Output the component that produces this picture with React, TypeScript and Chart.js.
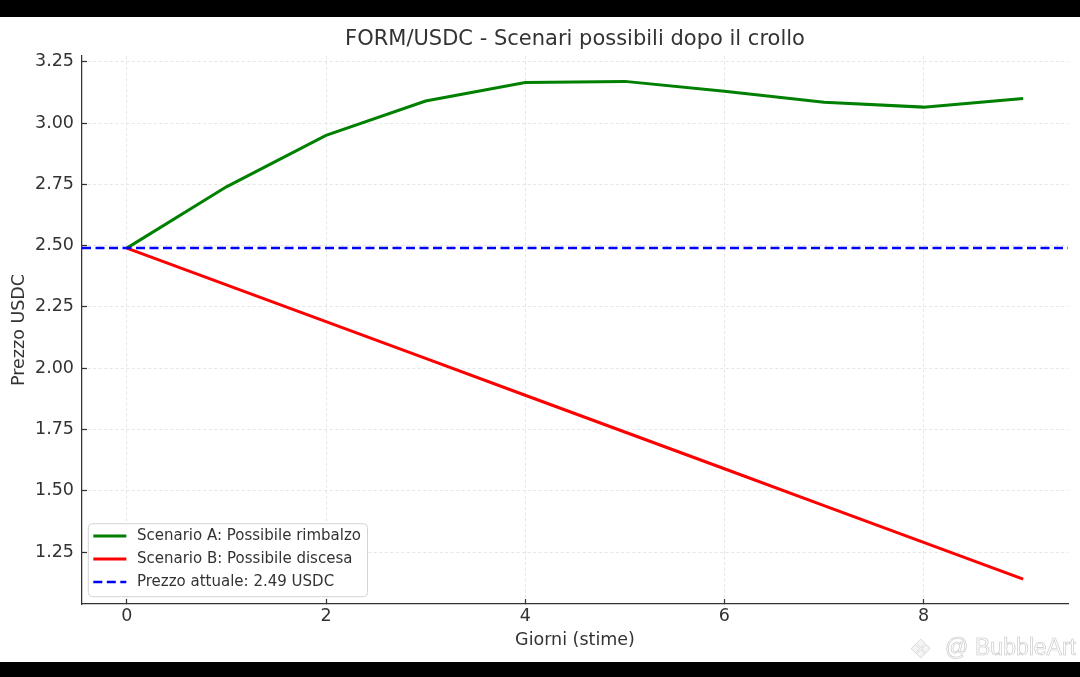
import React, { useEffect, useRef } from "react";
import { Chart, registerables } from "chart.js";

Chart.register(...registerables);

const days = [0, 1, 2, 3, 4, 5, 6, 7, 8, 9];
const scenarioA = [2.49, 2.74, 2.95, 3.09, 3.165, 3.17, 3.13, 3.085, 3.065, 3.1];
const scenarioB = [2.49, 2.34, 2.19, 2.04, 1.89, 1.74, 1.59, 1.44, 1.29, 1.14];
const currentPrice = 2.49;
const xTickValues = [0, 2, 4, 6, 8];
const yTickValues = [1.25, 1.5, 1.75, 2.0, 2.25, 2.5, 2.75, 3.0, 3.25];
const xLimits = [-0.45, 9.45];
const yLimits = [1.0385, 3.2735];

const labelA = "Scenario A: Possibile rimbalzo";
const labelB = "Scenario B: Possibile discesa";
const labelC = "Prezzo attuale: 2.49 USDC";

const FONT = "'DejaVu Sans', sans-serif";
const TEXT = "#333333";

const legendPlugin = {
  id: "innerLegend",
  afterDraw(chart: any) {
    const { ctx, chartArea } = chart;
    const ds = chart.data.datasets;
    ctx.save();
    ctx.font = `15px ${FONT}`;
    let maxW = 0;
    ds.forEach((d: any) => {
      maxW = Math.max(maxW, ctx.measureText(d.label).width);
    });
    const left = chartArea.left + 6.3;
    const bottom = chartArea.bottom - 7.3;
    const rowH = 23;
    const height = 12.3 + rowH * (ds.length - 1) + 14.7;
    const top = bottom - height;
    const textX = left + 48.7;
    const width = textX - left + maxW + 6.5;
    const r = 4;
    ctx.beginPath();
    ctx.moveTo(left + r, top);
    ctx.lineTo(left + width - r, top);
    ctx.arcTo(left + width, top, left + width, top + r, r);
    ctx.lineTo(left + width, bottom - r);
    ctx.arcTo(left + width, bottom, left + width - r, bottom, r);
    ctx.lineTo(left + r, bottom);
    ctx.arcTo(left, bottom, left, bottom - r, r);
    ctx.lineTo(left, top + r);
    ctx.arcTo(left, top, left + r, top, r);
    ctx.closePath();
    ctx.fillStyle = "rgba(255,255,255,0.85)";
    ctx.fill();
    ctx.strokeStyle = "#d4d4d4";
    ctx.lineWidth = 1;
    ctx.stroke();
    ds.forEach((d: any, i: number) => {
      const y = top + 12.3 + i * rowH;
      ctx.beginPath();
      ctx.setLineDash(d.borderDash || []);
      ctx.strokeStyle = d.borderColor;
      ctx.lineWidth = d.borderWidth;
      ctx.moveTo(left + 5, y);
      ctx.lineTo(left + 38, y);
      ctx.stroke();
      ctx.setLineDash([]);
      ctx.fillStyle = TEXT;
      ctx.textBaseline = "middle";
      ctx.textAlign = "left";
      ctx.fillText(d.label, textX, y + 0.5);
    });
    ctx.restore();
  },
};

export default function App() {
  const ref = useRef<HTMLCanvasElement | null>(null);

  useEffect(() => {
    if (!ref.current) return;
    Chart.defaults.font.family = FONT;
    Chart.defaults.color = TEXT;
    const chart = new Chart(ref.current, {
      type: "line",
      data: {
        datasets: [
          {
            label: labelA,
            data: days.map((d, i) => ({ x: d, y: scenarioA[i] })),
            borderColor: "#008000",
            backgroundColor: "#008000",
            borderWidth: 3,
            pointRadius: 0,
            tension: 0,
            order: 3,
          },
          {
            label: labelB,
            data: days.map((d, i) => ({ x: d, y: scenarioB[i] })),
            borderColor: "#ff0000",
            backgroundColor: "#ff0000",
            borderWidth: 3,
            pointRadius: 0,
            tension: 0,
            order: 2,
          },
          {
            label: labelC,
            data: [
              { x: xLimits[0], y: currentPrice },
              { x: xLimits[1], y: currentPrice },
            ],
            borderColor: "#0000ff",
            backgroundColor: "#0000ff",
            borderWidth: 2.5,
            borderDash: [9, 4.5],
            pointRadius: 0,
            tension: 0,
            order: 1,
          },
        ],
      },
      options: {
        animation: false,
        responsive: false,
        maintainAspectRatio: false,
        devicePixelRatio: 1,
        layout: { padding: { top: 17, left: 0, right: 12, bottom: 15 } },
        plugins: {
          legend: { display: false },
          tooltip: { enabled: false },
          title: {
            display: true,
            text: "FORM/USDC - Scenari possibili dopo il crollo",
            fullSize: false,
            color: TEXT,
            font: { size: 21, weight: "normal", family: FONT, lineHeight: 1.2 },
            padding: { top: 10.4, bottom: 3.4 },
          },
        },
        scales: {
          x: {
            type: "linear",
            min: xLimits[0],
            max: xLimits[1],
            afterBuildTicks: (scale: any) => {
              scale.ticks = xTickValues.map((v) => ({ value: v }));
            },
            afterFit: (scale: any) => {
              scale.height = 58;
            },
            ticks: {
              color: TEXT,
              font: { size: 17.5, family: FONT },
              padding: 7,
              maxRotation: 0,
              autoSkip: false,
              callback: (v: any) => String(v),
            },
            grid: {
              color: "#e6e6e6",
              lineWidth: 1,
              drawTicks: true,
              tickLength: -5,
              tickColor: "#333333",
              tickWidth: 1.25,
              tickBorderDash: [],
            },
            border: { display: true, color: "#333333", width: 1.25, dash: [3, 2.5] },
            title: {
              display: true,
              text: "Giorni (stime)",
              color: TEXT,
              font: { size: 17.5, family: FONT, lineHeight: 1.2 },
              padding: { top: 0, bottom: 11 },
            },
          },
          y: {
            type: "linear",
            min: yLimits[0],
            max: yLimits[1],
            afterBuildTicks: (scale: any) => {
              scale.ticks = yTickValues.map((v) => ({ value: v }));
            },
            afterFit: (scale: any) => {
              scale.width = 82;
            },
            ticks: {
              color: TEXT,
              font: { size: 17.5, family: FONT },
              padding: 13,
              autoSkip: false,
              callback: (v: any) => Number(v).toFixed(2),
            },
            grid: {
              color: "#e6e6e6",
              lineWidth: 1,
              drawTicks: true,
              tickLength: -5,
              tickColor: "#333333",
              tickWidth: 1.25,
              tickBorderDash: [],
            },
            border: { display: true, color: "#333333", width: 1.25, dash: [3, 2.5] },
            title: {
              display: true,
              text: "Prezzo USDC",
              color: TEXT,
              font: { size: 17.5, family: FONT, lineHeight: 1.2 },
              padding: { top: 9, bottom: 0 },
            },
          },
        },
      },
      plugins: [legendPlugin],
    } as any);
    return () => chart.destroy();
  }, []);

  const wm = {
    position: "absolute" as const,
    fontFamily: "'Liberation Sans', Arial, sans-serif",
    fontSize: 23,
    lineHeight: "26px",
    color: "rgba(255,255,255,0.95)",
    WebkitTextStroke: "0.6px #c4c4c4",
    whiteSpace: "nowrap" as const,
  };

  return (
    <div
      style={{
        position: "fixed",
        left: 0,
        top: 0,
        width: 1080,
        height: 677,
        background: "#ffffff",
        overflow: "hidden",
      }}
    >
      <canvas ref={ref} width={1080} height={677} style={{ display: "block", width: 1080, height: 677 }} />
      <div style={{ position: "absolute", left: 0, top: 0, width: 1080, height: 17, background: "#000" }} />
      <div style={{ position: "absolute", left: 0, top: 662, width: 1080, height: 15, background: "#000" }} />
      <div style={{ ...wm, left: 909, top: 636, fontSize: 26, color: "#f4f4f4", WebkitTextStroke: "0.5px #d0d0d0" }}>❖</div>
      <div style={{ ...wm, left: 945, top: 634 }}>@</div>
      <div style={{ ...wm, left: 975, top: 634 }}>BubbleArt</div>
    </div>
  );
}
